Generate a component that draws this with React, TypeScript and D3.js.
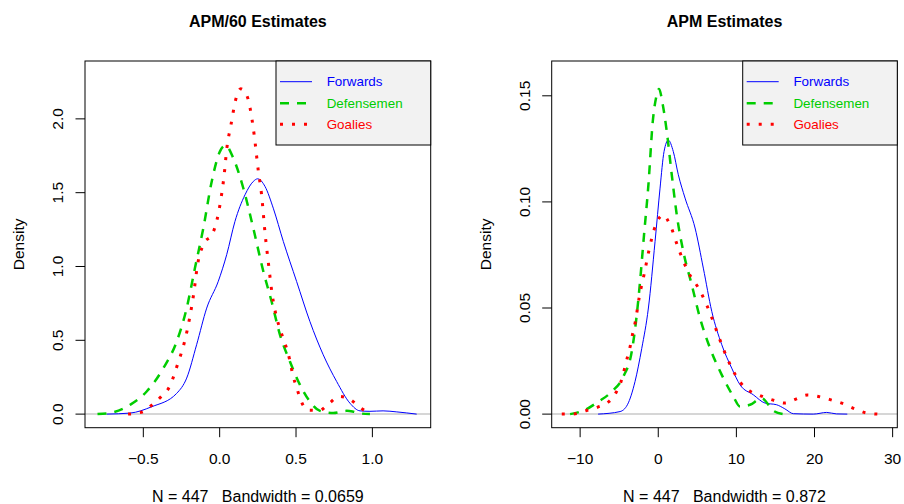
import React from "react";
import * as d3 from "d3";

type Pt = [number, number];

// ---------- Data ----------
const seriesNames = ["Forwards", "Defensemen", "Goalies"];
const seriesColors = ["#0000FF", "#00CD00", "#FF0000"];

const apm60Forwards: Pt[] = [
  [-0.74, 0], [-0.587, 0.007], [-0.445, 0.05], [-0.282, 0.14], [-0.216, 0.244],
  [-0.151, 0.47], [-0.085, 0.718], [-0.009, 0.9], [0.046, 1.08], [0.1, 1.305],
  [0.166, 1.486], [0.22, 1.576], [0.249, 1.594], [0.297, 1.542], [0.351, 1.395],
  [0.417, 1.169], [0.504, 0.898], [0.591, 0.627], [0.678, 0.402], [0.766, 0.221],
  [0.853, 0.074], [0.919, 0.022], [0.984, 0.019], [1.07, 0.022], [1.16, 0.015], [1.29, 0],
];
const apm60Defense: Pt[] = [
  [-0.8, 0], [-0.697, 0.013], [-0.587, 0.063], [-0.478, 0.153], [-0.369, 0.311],
  [-0.282, 0.49], [-0.216, 0.718], [-0.162, 0.989], [-0.107, 1.26], [-0.052, 1.576],
  [0.002, 1.78], [0.039, 1.82], [0.089, 1.734], [0.155, 1.53], [0.22, 1.26],
  [0.286, 0.966], [0.34, 0.763], [0.395, 0.537], [0.46, 0.356], [0.526, 0.198],
  [0.591, 0.085], [0.657, 0.022], [0.744, 0.007], [0.832, 0.022], [0.87, 0.018],
  [0.92, 0.005], [0.984, 0],
];
const apm60Goalies: Pt[] = [
  [-0.6, 0], [-0.507, 0.014], [-0.443, 0.063], [-0.382, 0.12], [-0.33, 0.183],
  [-0.275, 0.339], [-0.227, 0.503], [-0.195, 0.661], [-0.168, 0.831], [-0.147, 0.998],
  [-0.103, 1.156], [-0.048, 1.22], [-0.02, 1.305], [0.009, 1.463], [0.03, 1.626],
  [0.046, 1.793], [0.074, 1.96], [0.105, 2.13], [0.138, 2.204], [0.181, 2.15],
  [0.2, 2.068], [0.225, 1.899], [0.253, 1.648], [0.275, 1.481], [0.297, 1.228],
  [0.323, 0.989], [0.342, 0.824], [0.373, 0.654], [0.395, 0.576], [0.421, 0.497],
  [0.449, 0.409], [0.482, 0.253], [0.506, 0.174], [0.53, 0.097], [0.58, 0.027],
  [0.652, 0.025], [0.718, 0.074], [0.783, 0.12], [0.858, 0.097], [0.919, 0.045], [0.99, 0],
];

const apmForwards: Pt[] = [
  [-7.7, 0], [-4.89, 0.0012], [-3.95, 0.0044], [-2.97, 0.0154], [-2.11, 0.031],
  [-1.26, 0.05], [-0.41, 0.0813], [0.23, 0.1065], [0.74, 0.1237], [1.29, 0.1291],
  [1.93, 0.1237], [2.57, 0.1128], [3.43, 0.1018], [4.71, 0.0877], [5.77, 0.0688],
  [6.85, 0.0484], [8.13, 0.0327], [9.4, 0.0217], [10.47, 0.0138], [12.17, 0.0091],
  [13.67, 0.0052], [15.16, 0.0044], [16.2, 0.0025], [17.3, 0.0002], [19.85, 0],
  [21.56, 0.0008], [22.8, 0.0001], [24.2, 0],
];
const apmDefense: Pt[] = [
  [-11.29, 0], [-9.37, 0.002], [-7.66, 0.0059], [-5.95, 0.0106], [-4.46, 0.0177],
  [-3.39, 0.0295], [-2.75, 0.0468], [-2.33, 0.0625], [-1.82, 0.0845], [-1.26, 0.108],
  [-0.7, 0.1379], [-0.19, 0.1505], [0.1, 0.1532], [0.58, 0.1458], [1.09, 0.1332],
  [1.73, 0.1128], [2.37, 0.0939], [3.21, 0.0766], [4.29, 0.0609], [5.35, 0.0452],
  [6.63, 0.0311], [8.13, 0.0185], [9.61, 0.0083], [10.47, 0.0036], [11.75, 0.0044],
  [13.24, 0.0075], [14.73, 0.0016], [16.0, 0],
];
const apmGoalies: Pt[] = [
  [-12.35, 0], [-10.86, 0.0001], [-9.28, 0.0016], [-7.74, 0.0033], [-6.38, 0.0057],
  [-5.4, 0.0102], [-4.76, 0.0154], [-4.33, 0.0212], [-3.95, 0.0267], [-3.57, 0.0323],
  [-3.26, 0.0382], [-2.93, 0.0436], [-2.42, 0.0554], [-1.78, 0.0664], [-1.14, 0.078],
  [-0.32, 0.0892], [0.61, 0.0938], [1.51, 0.0892], [2.57, 0.0782], [3.77, 0.0675],
  [5.44, 0.0575], [6.72, 0.0468], [7.78, 0.0361], [8.97, 0.0251], [10.47, 0.0151],
  [11.66, 0.011], [13.12, 0.0086], [14.6, 0.0067], [16.23, 0.0052], [17.63, 0.0071],
  [19.08, 0.009], [20.61, 0.0082], [22.2, 0.0066], [23.68, 0.0049], [25.1, 0.0026],
  [26.6, 0.0006], [28.2, 0],
];

const leftTitle = "APM/60 Estimates";
const rightTitle = "APM Estimates";
const leftXLab = "N = 447   Bandwidth = 0.0659";
const rightXLab = "N = 447   Bandwidth = 0.872";
const yLab = "Density";

const leftXLim: [number, number] = [-0.798, 1.298];
const leftYLim: [number, number] = [0, 2.3];
const rightXLim: [number, number] = [-12.0, 28.96];
const rightYLim: [number, number] = [0, 0.16];

const leftXTicks = [-0.5, 0, 0.5, 1.0];
const leftXTickLabels = ["\u22120.5", "0.0", "0.5", "1.0"];
const leftYTicks = [0, 0.5, 1.0, 1.5, 2.0];
const leftYTickLabels = ["0.0", "0.5", "1.0", "1.5", "2.0"];
const rightXTicks = [-10, 0, 10, 20, 30];
const rightXTickLabels = ["\u221210", "0", "10", "20", "30"];
const rightYTicks = [0, 0.05, 0.1, 0.15];
const rightYTickLabels = ["0.00", "0.05", "0.10", "0.15"];

// ---------- Styles ----------
const FONT = "'Liberation Sans', Arial, Helvetica, sans-serif";
const dashes = [null, "9 8", "3 9"];
const widths = [1, 2.5, 3];

function extend(lim: [number, number]): [number, number] {
  const r = lim[1] - lim[0];
  return [lim[0] - 0.04 * r, lim[1] + 0.04 * r];
}

interface PanelProps {
  left: number;
  right: number;
  top: number;
  bottom: number;
  title: string;
  xlab: string;
  xlim: [number, number];
  ylim: [number, number];
  xTicks: number[];
  xTickLabels: string[];
  yTicks: number[];
  yTickLabels: string[];
  series: Pt[][];
  legendLeft: number;
}

function Panel(p: PanelProps) {
  const x = d3.scaleLinear().domain(extend(p.xlim)).range([p.left, p.right]);
  const y = d3.scaleLinear().domain(extend(p.ylim)).range([p.bottom, p.top]);
  const line = d3
    .line<Pt>()
    .x((d) => x(d[0]))
    .y((d) => y(d[1]))
    .curve(d3.curveMonotoneX);
  const cx = (p.left + p.right) / 2;
  const tick = 9.5;
  const legTop = p.top;
  const legBottom = p.top + 84;
  const rowY = [legTop + 20.7, legTop + 42.3, legTop + 63.3];
  return (
    <g>
      <text x={cx} y={27} textAnchor="middle" fontFamily={FONT} fontWeight="bold" fontSize={16}>
        {p.title}
      </text>
      {/* zero line */}
      <line x1={p.left} x2={p.right} y1={y(0)} y2={y(0)} stroke="#C8C8C8" strokeWidth={1.5} />
      {/* curves */}
      {p.series.map((s, i) => (
        <path
          key={i}
          d={line(s) || ""}
          fill="none"
          stroke={seriesColors[i]}
          strokeWidth={widths[i]}
          strokeDasharray={dashes[i] || undefined}
          strokeLinecap="butt"
          strokeLinejoin="round"
        />
      ))}
      {/* box */}
      <rect
        x={p.left}
        y={p.top}
        width={p.right - p.left}
        height={p.bottom - p.top}
        fill="none"
        stroke="#000"
        strokeWidth={1}
      />
      {/* x axis */}
      {p.xTicks.map((t, i) => (
        <g key={"xt" + i}>
          <line x1={x(t)} x2={x(t)} y1={p.bottom} y2={p.bottom + tick} stroke="#000" strokeWidth={1} />
          <text x={x(t)} y={464} textAnchor="middle" fontFamily={FONT} fontSize={15.5}>
            {p.xTickLabels[i]}
          </text>
        </g>
      ))}
      {/* y axis */}
      {p.yTicks.map((t, i) => (
        <g key={"yt" + i}>
          <line x1={p.left - tick} x2={p.left} y1={y(t)} y2={y(t)} stroke="#000" strokeWidth={1} />
          <text
            transform={`translate(${p.left - 21.7},${y(t)}) rotate(-90)`}
            textAnchor="middle"
            fontFamily={FONT}
            fontSize={15.5}
          >
            {p.yTickLabels[i]}
          </text>
        </g>
      ))}
      <text
        x={cx}
        y={502}
        textAnchor="middle"
        fontFamily={FONT}
        fontSize={16}
        style={{ whiteSpace: "pre" }}
        xmlSpace="preserve"
      >
        {p.xlab}
      </text>
      <text
        transform={`translate(${p.left - 61},${(p.top + p.bottom) / 2}) rotate(-90)`}
        textAnchor="middle"
        fontFamily={FONT}
        fontSize={15.5}
      >
        {yLab}
      </text>
      {/* legend */}
      <rect
        x={p.legendLeft}
        y={legTop}
        width={p.right - p.legendLeft}
        height={legBottom - legTop}
        fill="#F2F2F2"
        stroke="#000"
        strokeWidth={1}
      />
      {seriesNames.map((n, i) => (
        <g key={"lg" + i}>
          <line
            x1={p.legendLeft + 4}
            x2={p.legendLeft + 36}
            y1={rowY[i]}
            y2={rowY[i]}
            stroke={seriesColors[i]}
            strokeWidth={widths[i]}
            strokeDasharray={dashes[i] || undefined}
          />
          <text
            x={p.legendLeft + 50.7}
            y={rowY[i]}
            dy="0.35em"
            fontFamily={FONT}
            fontSize={13.4}
            fill={seriesColors[i]}
          >
            {n}
          </text>
        </g>
      ))}
    </g>
  );
}

export default function App() {
  return (
    <svg
      width={904}
      height={504}
      viewBox="0 0 904 504"
      style={{ position: "absolute", left: 0, top: 0, background: "#fff" }}
    >
      <rect x={0} y={0} width={904} height={504} fill="#fff" />
      <Panel
        left={85}
        right={430.7}
        top={61}
        bottom={427.7}
        title={leftTitle}
        xlab={leftXLab}
        xlim={leftXLim}
        ylim={leftYLim}
        xTicks={leftXTicks}
        xTickLabels={leftXTickLabels}
        yTicks={leftYTicks}
        yTickLabels={leftYTickLabels}
        series={[apm60Forwards, apm60Defense, apm60Goalies]}
        legendLeft={276}
      />
      <Panel
        left={551.7}
        right={897.3}
        top={61}
        bottom={427.7}
        title={rightTitle}
        xlab={rightXLab}
        xlim={rightXLim}
        ylim={rightYLim}
        xTicks={rightXTicks}
        xTickLabels={rightXTickLabels}
        yTicks={rightYTicks}
        yTickLabels={rightYTickLabels}
        series={[apmForwards, apmDefense, apmGoalies]}
        legendLeft={742.7}
      />
    </svg>
  );
}
